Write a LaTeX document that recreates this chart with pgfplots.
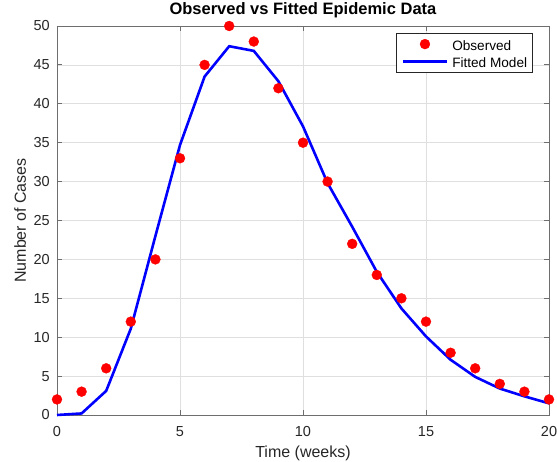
\documentclass[border=0pt]{standalone}
\usepackage{fontspec}
\setmainfont{Liberation Sans}
\usepackage{pgfplots}
\pgfplotsset{compat=1.18}
\definecolor{axgray}{RGB}{110,110,110}
\definecolor{txtgray}{RGB}{38,38,38}
\definecolor{gridgray}{RGB}{223,223,223}
\pgfplotsset{
 dotlegend/.style={legend image code/.code={\draw[mark repeat=2,mark phase=2,##1] plot coordinates {(0pt,0pt)(22pt,0pt)(44pt,0pt)};}},
 linelegend/.style={legend image code/.code={\draw[##1] (0pt,0pt) -- (44pt,0pt);}},
}
\begin{document}
\begin{tikzpicture}
\begin{axis}[
 width=492pt, height=389pt, scale only axis,
 xmin=0, xmax=20, ymin=0, ymax=50,
 xtick={0,5,...,20}, ytick={0,5,...,50},
 tick align=inside, major tick length=5pt,
 grid=major, major grid style={gridgray, line width=0.7pt},
 axis line style={axgray, line width=0.8pt},
 tick style={axgray, line width=0.8pt},
 ticklabel style={font=\fontsize{14.5}{16}\selectfont, text=txtgray},
 /pgf/number format/assume math mode=true,
 xticklabel style={anchor=base, inner sep=0pt, yshift=-22pt},
 yticklabel style={anchor=east, inner sep=0pt, xshift=-7pt},
 xlabel={Time (weeks)}, ylabel={Number of Cases},
 label style={font=\fontsize{16}{18}\selectfont, text=txtgray, inner sep=0pt},
 xlabel style={at={([yshift=-43pt]axis description cs:0.5,0)}, anchor=base},
 ylabel style={at={([xshift=-31pt]axis description cs:0,0.5)}, anchor=base},
 title={\textbf{Observed vs Fitted Epidemic Data}},
 title style={font=\fontsize{16.5}{18}\selectfont, at={([yshift=5pt]axis description cs:0.5,1)}, anchor=base, inner sep=0pt},
 clip=false,
 legend style={at={(rel axis cs:0.9675,0.982)}, anchor=north east,
   draw=txtgray, line width=0.8pt, fill=white,
   font=\fontsize{13.6}{15}\selectfont, inner xsep=5.5pt, inner ysep=1.5pt,
   nodes={inner sep=0pt, text height=15.2pt, text depth=3.2pt},
   row sep=-1.1pt, column sep=4pt},
 legend cell align=left,
]
\addplot[only marks, mark=*, color=red, mark size=5pt,
  mark options={fill=red, draw=red, line width=0.3pt}, dotlegend]
 coordinates {
 (0,2) (1,3) (2,6) (3,12) (4,20) (5,33) (6,45) (7,50) (8,48) (9,42) (10,35)
 (11,30) (12,22) (13,18) (14,15) (15,12) (16,8) (17,6) (18,4) (19,3) (20,2)
 };
\addlegendentry{Observed}
\addplot[color=blue, line width=2.6pt, linelegend]
 coordinates {
 (0,0) (1,0.2) (2,3.1) (3,11.1) (4,23.0) (5,34.7) (6,43.5) (7,47.4) (8,46.8) (9,42.9) (10,37.1)
 (11,29.8) (12,24.2) (13,18.4) (14,13.7) (15,10.1) (16,7.1) (17,4.9) (18,3.4) (19,2.4) (20,1.5)
 };
\addlegendentry{Fitted Model}
\end{axis}
\pgfresetboundingbox
\path[use as bounding box] ([shift={(-57pt,-47pt)}]current axis.south west) rectangle ([shift={(8pt,26pt)}]current axis.north east);
\end{tikzpicture}
\end{document}
